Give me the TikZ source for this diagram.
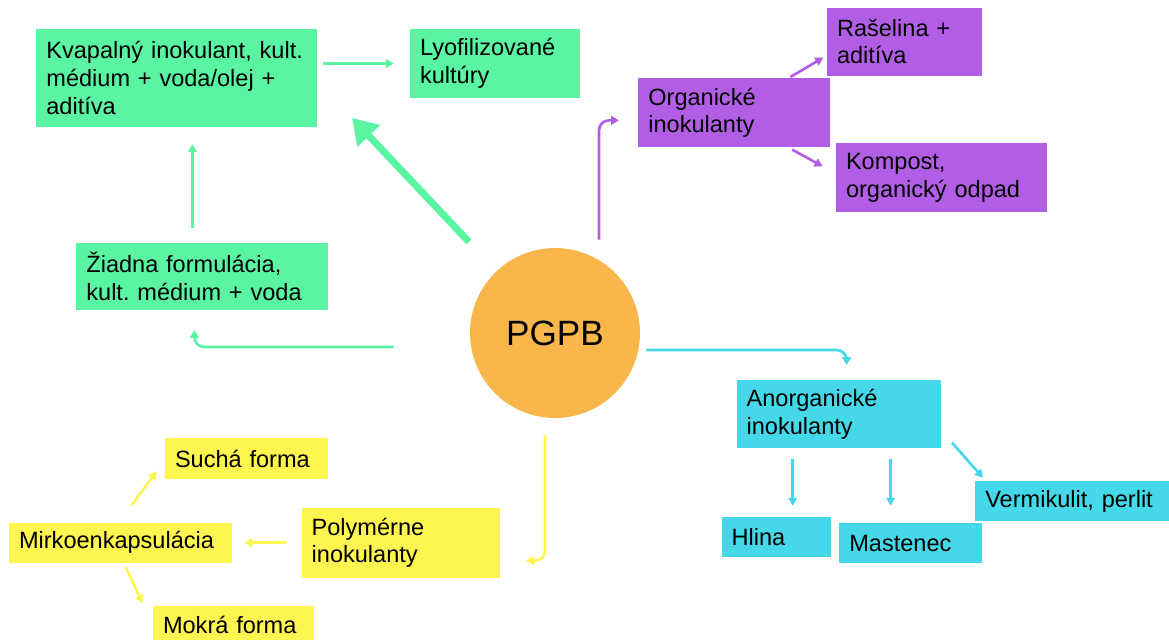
\documentclass[tikz,border=0pt]{standalone}
\usepackage{fontspec}
\setmainfont{Liberation Sans}
\usepackage{xcolor}
\usetikzlibrary{arrows.meta,positioning}
\definecolor{mint}{HTML}{5AF5A3}
\definecolor{lilac}{HTML}{B25DE6}
\definecolor{aqua}{HTML}{45D8E8}
\definecolor{lemon}{HTML}{FFF550}
\definecolor{amber}{HTML}{F9B74B}
\frenchspacing
\tikzset{
  formbox/.style={
    rectangle, fill=#1, text=black,
    font=\fontsize{13.4}{15.8}\selectfont, align=left,
    inner xsep=0.2cm, inner ysep=0pt
  },
  formbox/.default=mint,
  hub/.style={
    circle, fill=amber, minimum size=3.4cm, inner sep=0pt,
    font=\fontsize{20}{24}\selectfont
  },
  formarrow/.style={
    -{Triangle[length=4.5pt, width=5pt]}, line width=1.5pt, color=#1
  },
  formarrow/.default=mint,
  bigarrow/.style={
    -{Triangle[length=14pt, width=17pt]}, line width=4pt, color=#1
  },
  bigarrow/.default=mint,
}
\begin{document}
\begin{tikzpicture}[x=0.02cm, y=-0.02cm]
  \clip (0,0) rectangle (1169,639);
  \node[hub] (pgpb) at (555,333) {PGPB};
  % Tekuté formulácie
  \node[formbox, text width=4.64cm, minimum height=1.34cm, above left=0.46cm and 2.82cm of pgpb.west] (ziadna) {Žiadna formulácia,\\kult. médium + voda};
  \node[formbox, text width=5.22cm, minimum height=1.96cm, above right=2.3cm and -0.8cm of ziadna.north west] (kvap) {Kvapalný inokulant, kult.\\médium + voda/olej +\\aditíva};
  \node[formbox, text width=3.0cm, minimum height=1.38cm, below right=0cm and 1.84cm of kvap.north east] (lyo) {Lyofilizované\\kultúry};
  \coordinate (thickend) at (352,118);
  \draw[formarrow, shorten <=0.1cm, shorten >=0.32cm] (kvap.east |- lyo.west) -- (lyo.west);
  \draw[formarrow, shorten <=0.28cm, shorten >=0.34cm] ([xshift=-0.2cm]ziadna.north) -- ([xshift=-0.2cm]ziadna.north |- kvap.south);
  \draw[bigarrow, shorten <=0.8cm] (pgpb) -- (thickend);
  \draw[formarrow, rounded corners=0.2cm, shorten <=1.52cm, shorten >=0.4cm] ([yshift=-0.28cm]pgpb.west) -| ([xshift=-0.16cm]ziadna.south);
  % Organické
  \node[formbox=lilac, text width=3.44cm, minimum height=1.38cm, above right=2.0cm and 1.66cm of pgpb.north] (org) {Organické\\inokulanty};
  \node[formbox=lilac, text width=2.7cm, minimum height=1.36cm, above right=0.04cm and -0.08cm of org.north east] (ras) {Rašelina +\\aditíva};
  \node[formbox=lilac, text width=3.82cm, minimum height=1.38cm, below right=-0.1cm and 0.1cm of org.south east] (komp) {Kompost,\\organický odpad};
  \draw[formarrow=lilac, rounded corners=0.2cm, shorten <=0.16cm, shorten >=0.38cm] ([xshift=0.88cm]pgpb.north) |- ([yshift=-0.15cm]org.west);
  \draw[formarrow=lilac, shorten <=0.04cm, shorten >=0.08cm] ([xshift=-0.84cm]org.north east) -- ([yshift=-0.28cm]ras.west);
  \draw[formarrow=lilac, shorten <=0.08cm, shorten >=0.3cm] ([xshift=-0.84cm]org.south east) -- ([yshift=0.08cm]komp.west);
  % Anorganické
  \node[formbox=aqua, text width=3.68cm, minimum height=1.36cm, below right=0.94cm and 1.92cm of pgpb.east] (anorg) {Anorganické\\inokulanty};
  \node[formbox=aqua, text width=1.78cm, minimum height=0.8cm, below right=1.36cm and -0.3cm of anorg.south west] (hlina) {Hlina};
  \node[formbox=aqua, text width=2.46cm, minimum height=0.8cm, below right=0.12cm and 0.16cm of hlina.north east] (mast) {Mastenec};
  \node[formbox=aqua, text width=3.52cm, minimum height=0.8cm, below right=0.64cm and 0.68cm of anorg.south east] (verm) {Vermikulit, perlit};
  \draw[formarrow=aqua, rounded corners=0.2cm, shorten <=0.12cm, shorten >=0.3cm] ([yshift=-0.34cm]pgpb.east) -| ([xshift=0.16cm]anorg.north);
  \draw[formarrow=aqua, shorten <=0.2cm, shorten >=0.22cm] ([xshift=-0.92cm]anorg.south) -- ([xshift=-0.92cm]anorg.south |- hlina.north);
  \draw[formarrow=aqua, shorten <=0.2cm, shorten >=0.34cm] ([xshift=1.04cm]anorg.south) -- ([xshift=1.04cm]anorg.south |- mast.north);
  \draw[formarrow=aqua] ([xshift=0.22cm, yshift=0.12cm]anorg.south east) -- ([xshift=0.16cm, yshift=0.06cm]verm.north west);
  % Polymérne
  \node[formbox=lemon, text width=3.56cm, minimum height=1.4cm, below left=1.78cm and 1.1cm of pgpb.south] (poly) {Polymérne\\inokulanty};
  \node[formbox=lemon, text width=4.06cm, minimum height=0.8cm, left=1.38cm of poly.west] (mirko) {Mirkoenkapsulácia};
  \node[formbox=lemon, text width=2.86cm, minimum height=0.82cm, above right=0.86cm and 3.12cm of mirko.north west] (such) {Suchá forma};
  \node[formbox=lemon, text width=2.82cm, minimum height=0.74cm, below right=0.86cm and 2.88cm of mirko.south west] (mokra) {Mokrá forma};
  \draw[formarrow=lemon, rounded corners=0.2cm, shorten <=0.34cm, shorten >=0.52cm] ([xshift=-0.2cm]pgpb.south) |- ([yshift=-0.36cm]poly.east);
  \draw[formarrow=lemon, shorten <=0.3cm, shorten >=0.24cm] (poly.west) -- (mirko.east);
  \draw[formarrow=lemon] ([xshift=0.22cm, yshift=0.34cm]mirko.north) -- ([xshift=-0.16cm, yshift=0.16cm]such.south west);
  \draw[formarrow=lemon] ([xshift=0.1cm, yshift=-0.08cm]mirko.south) -- ([xshift=-0.2cm, yshift=0.06cm]mokra.north west);
\end{tikzpicture}
\end{document}
